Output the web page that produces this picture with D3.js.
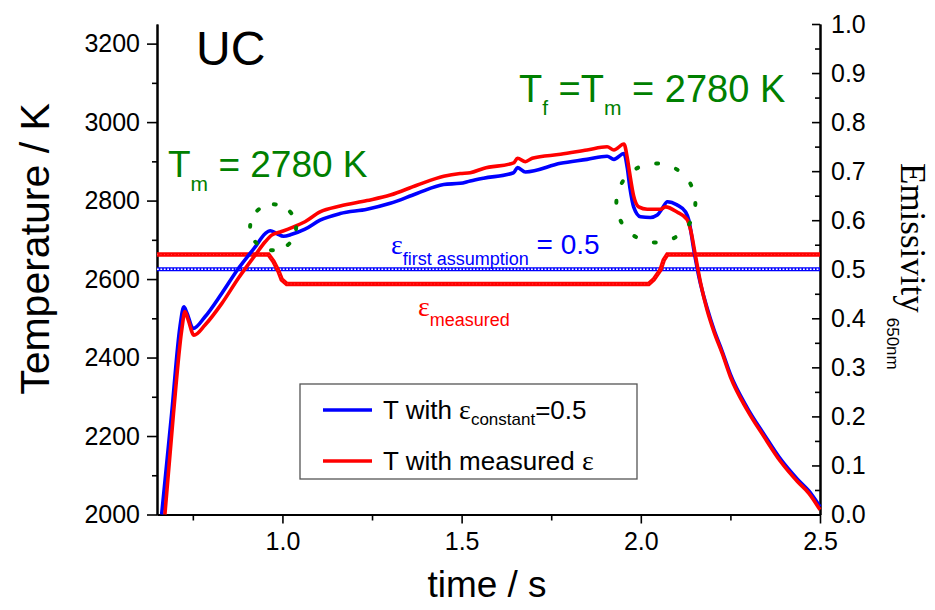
<!DOCTYPE html>
<html><head><meta charset="utf-8">
<script src="https://cdn.jsdelivr.net/npm/d3@7"></script>
<style>
body{margin:0;background:#fff}
svg{display:block}
text{font-family:"Liberation Sans",Arial,sans-serif}
</style>
</head><body>
<svg id="chart" width="935" height="610"></svg>
<script>
// ---- data ----
const timeConst = [0.663,0.691,0.714,0.725,0.733,0.751,0.784,0.831,0.877,0.924,0.952,0.966,0.984,1.003,1.026,1.063,1.105,1.161,1.236,1.301,1.375,1.450,1.496,1.524,1.561,1.645,1.656,1.678,1.776,1.850,1.906,1.925,1.953,1.962,1.970,1.980,1.999,2.027,2.046,2.060,2.074,2.101,2.125,2.134,2.148,2.162,2.185,2.204,2.227,2.250,2.297,2.344,2.390,2.437,2.469,2.500];
const tempConst = [2000,2258,2478,2529,2515,2474,2504,2564,2627,2682,2716,2723,2716,2709,2714,2727,2750,2767,2778,2793,2818,2841,2844,2850,2857,2871,2884,2873,2895,2905,2913,2905,2920,2885,2830,2784,2759,2757,2763,2780,2797,2789,2771,2750,2674,2606,2526,2471,2416,2357,2272,2204,2141,2090,2060,2020];

const timeMeas = [0.672,0.696,0.719,0.728,0.737,0.753,0.784,0.831,0.877,0.924,0.952,0.970,0.994,1.026,1.063,1.105,1.161,1.236,1.301,1.375,1.450,1.496,1.524,1.561,1.645,1.656,1.678,1.697,1.776,1.850,1.906,1.925,1.953,1.962,1.968,1.980,1.994,2.018,2.055,2.069,2.101,2.129,2.139,2.153,2.167,2.185,2.204,2.227,2.250,2.297,2.344,2.390,2.437,2.469,2.500];
const tempMeas = [2000,2258,2470,2517,2496,2457,2483,2538,2602,2661,2695,2712,2720,2731,2746,2771,2786,2800,2814,2839,2862,2869,2871,2882,2896,2908,2899,2908,2918,2929,2937,2929,2944,2910,2875,2812,2784,2778,2778,2784,2771,2752,2725,2657,2589,2521,2466,2411,2351,2266,2198,2135,2084,2054,2012];

const timeEpsMeas = [0.65,0.961,0.975,0.989,0.998,1.012,2.022,2.036,2.055,2.064,2.074,2.5];
const epsMeas     = [0.53,0.53,0.516,0.496,0.479,0.47,0.47,0.479,0.499,0.519,0.53,0.53];
const timeEpsFirst = [0.65,2.5];
const epsFirst     = [0.5,0.5];

const xTicks = [1.0,1.5,2.0,2.5];
const xMinor = [0.75,1.25,1.75,2.25];
const yTicks = [2000,2200,2400,2600,2800,3000,3200];
const yMinor = [2100,2300,2500,2700,2900,3100];
const eTicks = [0,0.1,0.2,0.3,0.4,0.5,0.6,0.7,0.8,0.9,1.0];
const eMinor = [0.05,0.15,0.25,0.35,0.45,0.55,0.65,0.75,0.85,0.95];

// melting markers (time, temperature)
const meltMarks = [{t:0.974,T:2732,r:23,n:8},{t:2.042,T:2794,r:39.5,n:12}];

// ---- chart ----
const svg = d3.select("#chart");
const x = d3.scaleLinear().domain([0.65,2.5]).range([157,820]);
const y = d3.scaleLinear().domain([2000,3250]).range([514.5,24]);
const ye = d3.scaleLinear().domain([0,1]).range([514.5,24]);

const BLUE="#0000ff", RED="#ff0000", GREEN="#008000";

function styleAxis(g){
  g.selectAll(".domain").attr("stroke","#000").attr("stroke-width",2);
  g.selectAll(".tick line").attr("stroke","#000").attr("stroke-width",1.6);
  g.selectAll("text").attr("font-family","'Liberation Sans',Arial,sans-serif").attr("font-size",25).attr("fill","#000");
}

// left axis
const gl = svg.append("g").attr("transform","translate(157,0)");
gl.append("g").call(d3.axisLeft(y).tickValues(yMinor).tickSize(5).tickFormat("").tickSizeOuter(0)).call(styleAxis);
gl.append("g").call(d3.axisLeft(y).tickValues(yTicks).tickSize(10).tickPadding(7).tickSizeOuter(0).tickFormat(d3.format("d"))).call(styleAxis);
// right axis (ticks inward)
const gr = svg.append("g").attr("transform","translate(820,0)");
gr.append("g").call(d3.axisRight(ye).tickValues(eMinor).tickSize(-5).tickFormat("").tickSizeOuter(0)).call(styleAxis);
gr.append("g").call(d3.axisRight(ye).tickValues(eTicks).tickSize(-8).tickPadding(11).tickSizeOuter(0).tickFormat(d3.format(".1f"))).call(styleAxis);
// bottom axis
const gb = svg.append("g").attr("transform","translate(0,514.5)");
gb.append("g").call(d3.axisBottom(x).tickValues(xMinor).tickSize(6).tickFormat("").tickSizeOuter(0)).call(styleAxis);
gb.append("g").call(d3.axisBottom(x).tickValues(xTicks).tickSize(9).tickPadding(9).tickSizeOuter(0).tickFormat(d3.format(".1f"))).call(styleAxis);

// emissivity lines
const epsLine = d3.line().x(d=>x(d[0])).y(d=>ye(d[1]));
const firstData = d3.zip(timeEpsFirst, epsFirst);
svg.append("path").attr("d",epsLine(firstData)).attr("fill","none").attr("stroke",BLUE).attr("stroke-width",4.2);
svg.append("path").attr("d",epsLine(firstData)).attr("fill","none").attr("stroke","#fff").attr("stroke-width",1.5).attr("stroke-dasharray","1.8 1.6");
const measEps = d3.zip(timeEpsMeas, epsMeas);
svg.append("path").attr("d",epsLine(measEps)).attr("fill","none").attr("stroke",RED).attr("stroke-width",4.5);
svg.append("path").attr("d",epsLine(measEps)).attr("fill","none").attr("stroke","#ff8080").attr("stroke-width",0.8).attr("stroke-dasharray","1 2.5").attr("opacity",0.6);

// temperature curves
const tLine = d3.line().x(d=>x(d[0])).y(d=>y(d[1])).curve(d3.curveMonotoneX);
svg.append("path").attr("d",tLine(d3.zip(timeConst,tempConst))).attr("fill","none").attr("stroke",BLUE).attr("stroke-width",3.6).attr("stroke-linejoin","round");
svg.append("path").attr("d",tLine(d3.zip(timeMeas,tempMeas))).attr("fill","none").attr("stroke",RED).attr("stroke-width",3.6).attr("stroke-linejoin","round");

// dotted circles
meltMarks.forEach(m=>{
  const circ = 2*Math.PI*m.r, per = circ/m.n;
  svg.append("circle").attr("cx",x(m.t)).attr("cy",y(m.T)).attr("r",m.r)
    .attr("fill","none").attr("stroke",GREEN).attr("stroke-width",4)
    .attr("stroke-linecap","round").attr("stroke-dasharray",`2 ${per-2}`);
});

// annotations
svg.append("text").attr("x",196).attr("y",65).attr("font-size",48).text("UC");

const tm = svg.append("text").attr("x",168).attr("y",176.7).attr("font-size",37).attr("fill",GREEN);
tm.append("tspan").text("T");
tm.append("tspan").attr("font-size",21).attr("dy",14).text("m");
tm.append("tspan").attr("dy",-14).text(" = 2780 K");

const tf = svg.append("text").attr("x",519).attr("y",101.7).attr("font-size",38).attr("fill",GREEN);
tf.append("tspan").text("T");
tf.append("tspan").attr("font-size",21).attr("dy",13.5).text("f");
tf.append("tspan").attr("dy",-13.5).text(" =T");
tf.append("tspan").attr("font-size",21).attr("dy",13.5).text("m");
tf.append("tspan").attr("dy",-13.5).text(" = 2780 K");

const ef = svg.append("text").attr("x",391).attr("y",254).attr("fill",BLUE);
ef.append("tspan").attr("font-family","'Liberation Serif',serif").attr("font-size",28).text("ε");
ef.append("tspan").attr("font-size",18).attr("dy",11).text("first assumption");
ef.append("tspan").attr("font-size",28).attr("dy",-11).text(" = 0.5");

const em = svg.append("text").attr("x",418).attr("y",316).attr("fill",RED);
em.append("tspan").attr("font-family","'Liberation Serif',serif").attr("font-size",28).text("ε");
em.append("tspan").attr("font-size",18).attr("dy",10).text("measured");

// axis titles
svg.append("text").attr("transform","translate(49,249) rotate(-90)").attr("text-anchor","middle").attr("font-size",41).text("Temperature / K");
svg.append("text").attr("x",487).attr("y",597).attr("text-anchor","middle").attr("font-size",37).text("time / s");
const et = svg.append("text").attr("transform","translate(901,163) rotate(90)");
et.append("tspan").attr("font-family","'Liberation Serif','Times New Roman',serif").attr("font-size",35).text("Emissivity");
et.append("tspan").attr("font-size",17).attr("dx",5).attr("dy",14).text("650nm");

// legend
const legend = svg.append("g");
legend.append("rect").attr("x",300).attr("y",384).attr("width",337).attr("height",95).attr("fill","#fff").attr("stroke","#555").attr("stroke-width",1.3);
const legendItems = [{c:BLUE, rowY:410}, {c:RED, rowY:461}];
legendItems.forEach(it=>{
  legend.append("line").attr("x1",323).attr("x2",372).attr("y1",it.rowY).attr("y2",it.rowY).attr("stroke",it.c).attr("stroke-width",3.6);
});
const l1 = legend.append("text").attr("x",383).attr("y",419).attr("font-size",26);
l1.append("tspan").text("T with ");
l1.append("tspan").attr("font-family","'Liberation Serif',serif").attr("font-size",28).text("ε");
l1.append("tspan").attr("font-size",17).attr("dy",6).text("constant");
l1.append("tspan").attr("dy",-6).text("=0.5");
const l2 = legend.append("text").attr("x",383).attr("y",470).attr("font-size",26);
l2.append("tspan").text("T with measured ");
l2.append("tspan").attr("font-family","'Liberation Serif',serif").attr("font-size",28).text("ε");
</script>
</body></html>
